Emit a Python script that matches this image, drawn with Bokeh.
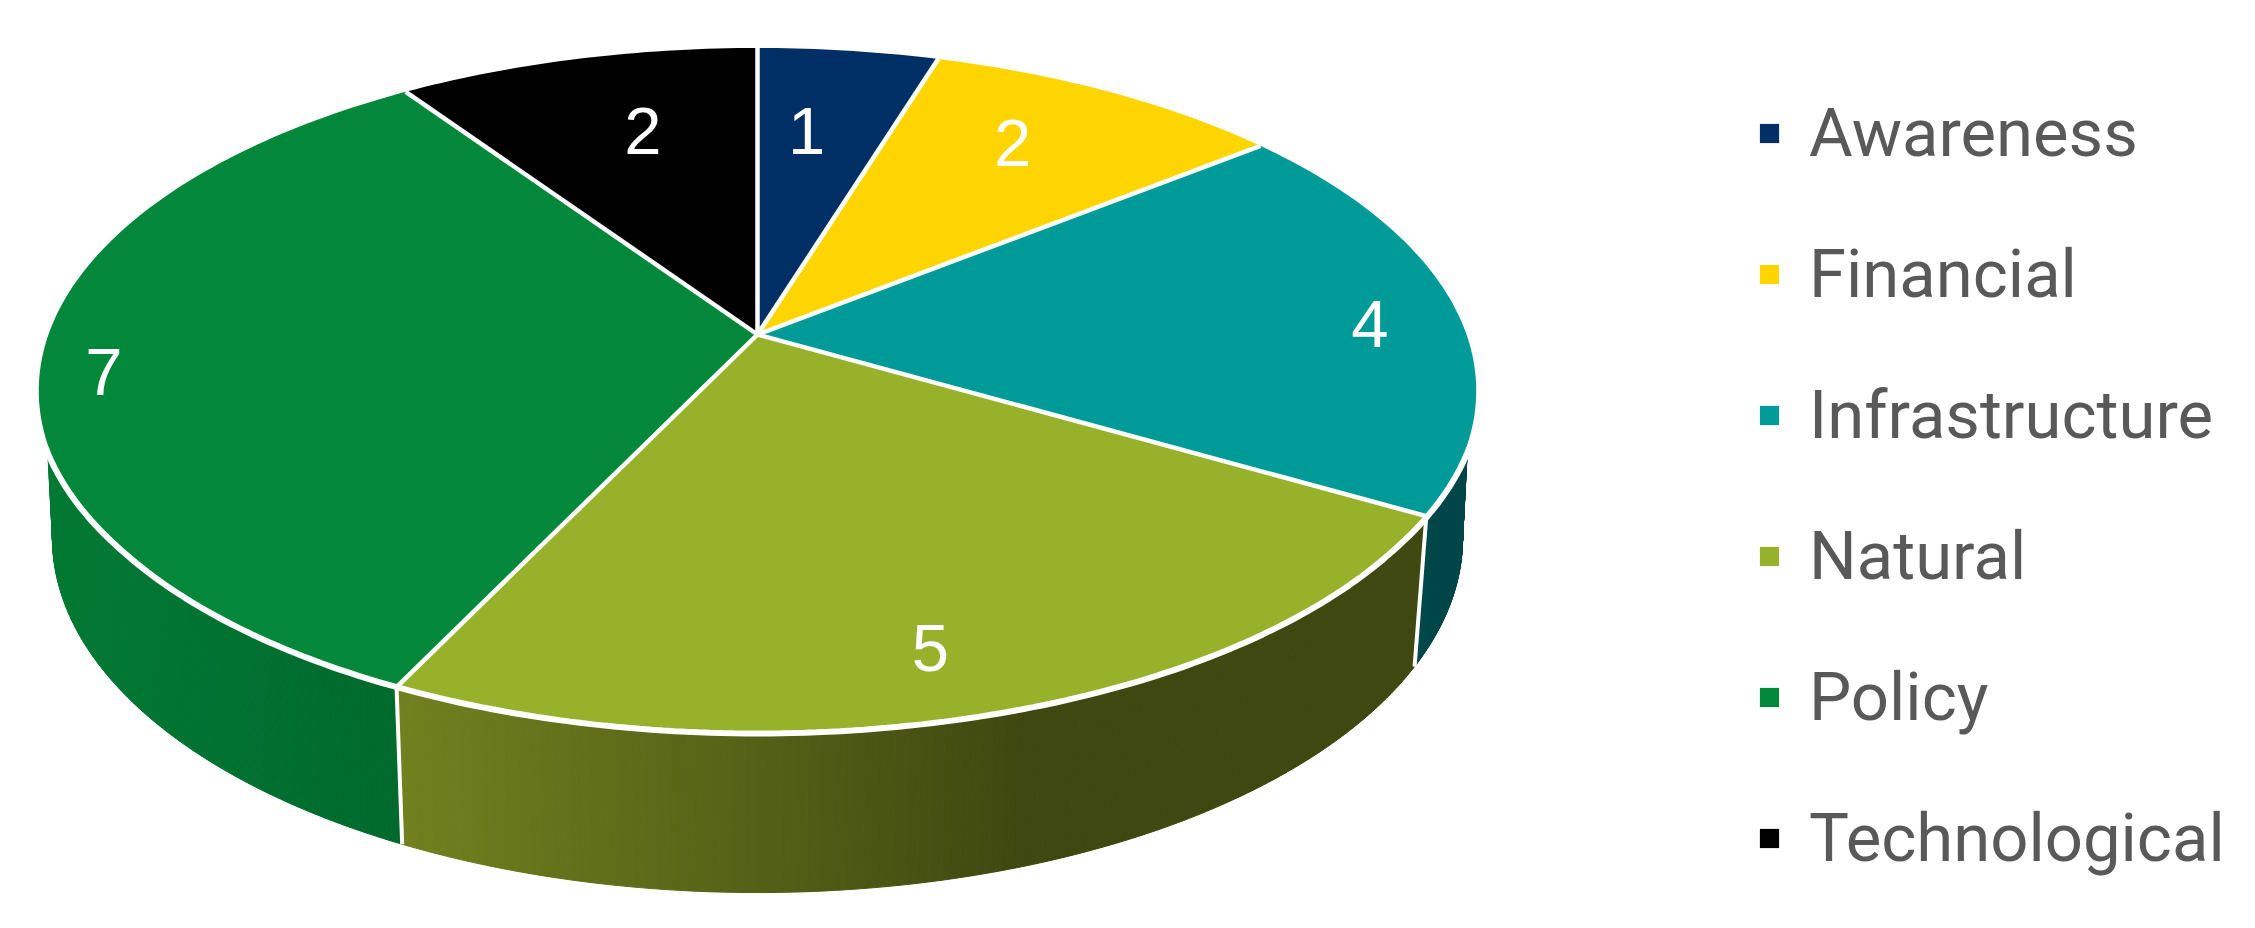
import math
from bokeh.plotting import figure
from bokeh.models import Range1d, Legend, LegendItem
from bokeh.core.properties import value
from bokeh.embed import file_html
from bokeh.resources import INLINE

categories = ["Awareness", "Financial", "Infrastructure", "Natural", "Policy", "Technological"]
counts = [1, 2, 4, 5, 7, 2]
top_colors = ["#002F66", "#FFD500", "#009B98", "#97B12A", "#03873A", "#000000"]
wall_left = ["#001F44", "#8A7400", "#00484A", "#71811F", "#027A34", "#000000"]
wall_right = ["#001F44", "#8A7400", "#00484A", "#3F4810", "#006A2D", "#000000"]
label_radius = [0.682, 0.748, 0.869, 0.841, 0.912, 0.701]
label_offset_deg = [-2.1, -2.2, 2.1, 2.6, -2.6, 2.3]

# perspective model of the disc, in page pixels
CX = 757.0
TOP = dict(cy=334.0, a=333.5, b=709.0, k=0.164)
BOT = dict(cy=478.0, a=344.5, b=695.0, k=0.168)
# angles at which the visible wall starts and ends on the upper and lower edge
WALL_TOP = (108.0, 252.0)
WALL_BOT = (100.0, 260.0)
LEGEND_FONT = "Roboto"


def project(plane, deg, r=1.0):
    t = math.radians(deg)
    u, v = r * math.sin(t), r * math.cos(t)
    d = 1 + plane["k"] * v
    return CX + plane["b"] * u / d, plane["cy"] - plane["a"] * v / d


def arc(plane, a0, a1, n):
    return [project(plane, a0 + (a1 - a0) * i / n) for i in range(n + 1)]


def mix(c0, c1, f):
    f = max(0.0, min(1.0, f))
    p = [int(c0[i:i + 2], 16) for i in (1, 3, 5)]
    q = [int(c1[i:i + 2], 16) for i in (1, 3, 5)]
    return "#%02x%02x%02x" % tuple(round(a + (b - a) * f) for a, b in zip(p, q))


total = sum(counts)
edges = [0.0]
for c in counts:
    edges.append(edges[-1] + 360.0 * c / total)

p = figure(width=2239, height=912, output_backend="svg", toolbar_location=None,
           x_range=Range1d(0, 2239), y_range=Range1d(912, 0),
           min_border=0, border_fill_color="white", background_fill_color="white")
p.axis.visible = False
p.grid.visible = False
p.outline_line_color = None

# side walls, shaded along x in thin strips
for i in [2, 4, 3]:
    a0, a1 = edges[i], edges[i + 1]
    n = 200
    t = arc(TOP, max(a0, WALL_TOP[0]), min(a1, WALL_TOP[1]), n)
    b = arc(BOT, max(a0, WALL_BOT[0]), min(a1, WALL_BOT[1]), n)
    xs, ys, cols = [], [], []
    lo = min(q[0] for q in t)
    hi = max(q[0] for q in t)
    for j in range(n):
        xs.append([t[j][0], t[j + 1][0], b[j + 1][0], b[j][0]])
        ys.append([t[j][1], t[j + 1][1], b[j + 1][1], b[j][1]])
        xm = (t[j][0] + t[j + 1][0]) / 2
        if i == 3:
            f = (t[-1][0] - xm) / (t[-1][0] - 1025)
        else:
            f = (xm - lo) / (hi - lo)
        cols.append(mix(wall_left[i], wall_right[i], f))
    p.patches(xs, ys, fill_color=cols, line_color=cols, line_width=1)

# white verticals between walls
for k in (3, 4):
    a = project(TOP, edges[k])
    b = project(BOT, edges[k])
    p.line([a[0], b[0]], [a[1], b[1]], line_color="white", line_width=4)

# top faces
items = []
for i, cat in enumerate(categories):
    a0, a1 = edges[i], edges[i + 1]
    pts = [(CX, TOP["cy"])] + arc(TOP, a0, a1, int(a1 - a0) + 2)
    r = p.patch([q[0] for q in pts], [q[1] for q in pts], fill_color=top_colors[i],
                line_color=None)
    items.append(LegendItem(label=cat, renderers=[r]))

# rim over the wall; its ends fade out past the disc edge so they leave no notch
rim_a = [WALL_TOP[0] + (WALL_TOP[1] - WALL_TOP[0]) * i / 180 for i in range(181)]
rim = []
for a in rim_a:
    d = min(a - WALL_TOP[0], WALL_TOP[1] - a)
    rim.append(project(TOP, a, 1.0 + 0.004 * max(0.0, 1 - d / 18)))
p.line([q[0] for q in rim], [q[1] for q in rim], line_color="white", line_width=6)
for e in edges[:-1]:
    q = project(TOP, e)
    p.line([CX, q[0]], [TOP["cy"], q[1]], line_color="white", line_width=4.5)

# data labels
lx, ly, lt = [], [], []
for i, c in enumerate(counts):
    mid = (edges[i] + edges[i + 1]) / 2 + label_offset_deg[i]
    x, y = project(TOP, mid, label_radius[i])
    lx.append(x)
    ly.append(y)
    lt.append(str(c))
p.text(x=lx, y=ly, text=lt, text_color="white", text_align="center", text_baseline="middle",
       text_font=value("Liberation Sans"), text_font_size="67px")

legend = Legend(items=items, location=(1757, 34), orientation="vertical",
                glyph_width=24, glyph_height=24, label_standoff=28, spacing=60,
                padding=0, margin=0, border_line_color=None, background_fill_alpha=0,
                label_text_font=LEGEND_FONT, label_text_font_size="67px",
                label_text_color="#595959", label_height=81, label_text_baseline="middle")
p.add_layout(legend, "center")

open("out.html", "w").write(file_html(p, INLINE))
